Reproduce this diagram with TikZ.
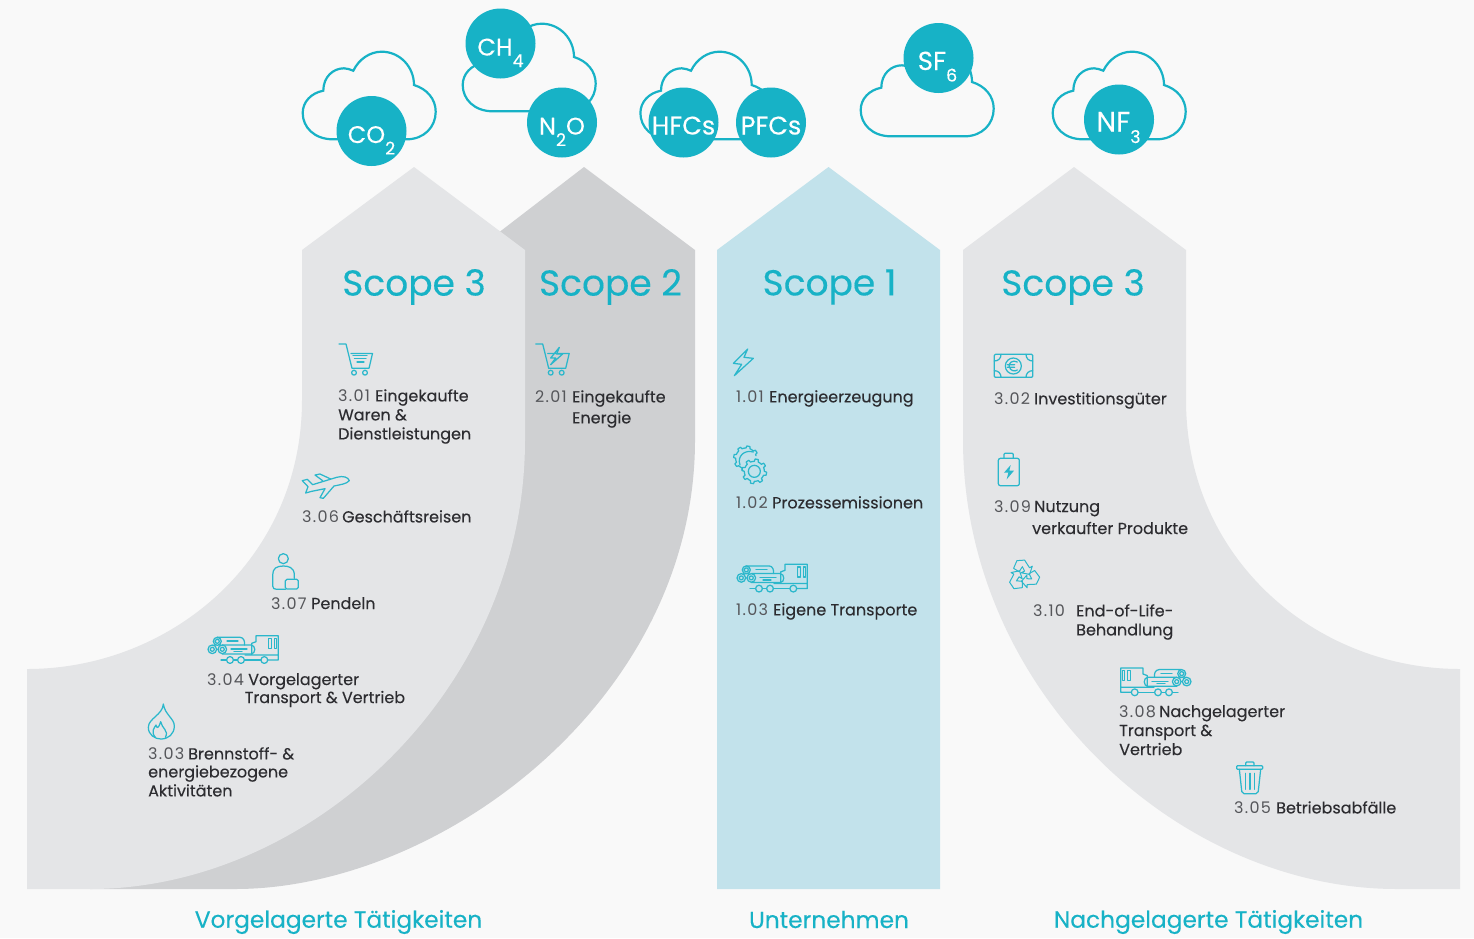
\documentclass[tikz,border=0pt]{standalone}
\usepackage{fontspec}
\setmainfont[FakeBold=0.2]{Poppins}
\newfontfamily\numf[LetterSpace=8]{Poppins}
\definecolor{bgc}{HTML}{F9F9F9}
\definecolor{lightg}{HTML}{E4E5E7}
\definecolor{darkg}{HTML}{CFD0D2}
\definecolor{bluep}{HTML}{C2E2EB}
\definecolor{teal}{HTML}{17B2C6}
\definecolor{iconc}{HTML}{2BB7CB}
\definecolor{numc}{HTML}{55565A}
\definecolor{labc}{HTML}{2C2C30}
\newcommand\cloudshape{(333,139.3) .. controls (314,139.3) and (302.7,127) .. (302.7,113) .. controls (302.7,102) and (311,93) .. (323.3,90.7) .. controls (323.3,77) and (333,68.3) .. (344,68.3) .. controls (347,68.3) and (350,69.5) .. (353.3,70.7) .. controls (359,59) and (370,51.7) .. (381.7,51.7) .. controls (400,51.7) and (414,67) .. (414,85) .. controls (427,89) and (435.7,99) .. (435.7,111.7) .. controls (435.7,127) and (424,139.3) .. (406.7,139.3) -- cycle}
\newcommand\subs[1]{\raisebox{-11.5pt}{\fontsize{17.5}{17.5}\selectfont #1}}
\newcommand\gt[1]{\smash{\raisebox{-12pt}{#1}}}
\newcommand\nb[2]{\makebox[#1pt][l]{\color{numc}\numf #2}}
\newcommand\fl{\rule{0pt}{11.2pt}}
\tikzset{
  x=1pt,y=-1pt,
  cloudline/.style={draw=teal,line width=2.2pt},
  gas/.style={circle,fill=teal,text=white,minimum size=70pt,inner sep=0pt,font=\fontsize{24}{24}\selectfont},
  gasbig/.style={gas,font=\fontsize{25.5}{25.5}\selectfont},
  scopetitle/.style={text=teal,inner sep=0pt,font=\fontsize{36}{36}\selectfont},
  foot/.style={text=teal,inner sep=0pt,font=\fontsize{23.3}{23.3}\selectfont},
  item/.style={text=labc,inner sep=0pt,anchor=north west,align=left,font=\fontsize{16}{19}\selectfont},
  icon/.style={draw=iconc,line width=1.25pt,line join=round,line cap=round},
  truck/.pic={
    \draw[icon] (10.3,6.3) circle (4) (10.3,6.3) circle (2) (5.3,14.3) circle (4.3) (5.3,14.3) circle (2) (15.3,14.3) circle (4.3) (15.3,14.3) circle (2);
    \draw[icon] (10.3,2.3) -- (33,2.3) .. controls (37,2.3) and (38,7) .. (37.5,10);
    \draw[icon] (15.3,10) -- (44,10) .. controls (49,10) and (49,19) .. (44,19) -- (15.3,19);
    \draw[icon] (20,6) -- (31,6) (24,14) -- (40,14) (27,16.5) -- (35,16.5);
    \draw[icon] (44.7,20) -- (44.7,8.3) -- (49,6.7) -- (49,.7) -- (71.3,.7) -- (71.3,25) -- (61,25) (38,20) -- (71.3,20);
    \draw[icon] (61.3,3.3) rectangle (64.7,13.3) (67.3,3.3) rectangle (69.7,13.3);
    \draw[icon] (23,25) circle (3.4) (34,25) circle (3.4) (57.3,25) circle (3.4);
    \draw[icon] (14,25) -- (19.6,25) (26.4,25) -- (30.6,25) (37.4,25) -- (53.9,25);
  },
  cartframe/.pic={
    \draw[icon] (339,344) -- (346,344) -- (352,368.3) -- (369,368.3) -- (372.5,353.5) -- (351,353.5);
    \draw[icon] (354,372.7) circle (2.4) (365,372.7) circle (2.4);
  }
}
\begin{document}
\begin{tikzpicture}
\useasboundingbox (0,0) rectangle (1474,938);
\fill[bgc] (0,0) rectangle (1474,938);
% bands
\fill[darkg] (584,167) -- (695,250) -- (695,440) .. controls (695,700) and (440,889) .. (235,889) -- (90,889) -- (450,500) -- (450,270) -- cycle;
\fill[lightg] (414,167) -- (525,250) -- (525,440) .. controls (525,690) and (310,889) .. (90,889) -- (27,889) -- (27,669) .. controls (170,669) and (302,560) .. (302,400) -- (302,250) -- cycle;
\fill[bluep] (828.5,167) -- (940,250) -- (940,889) -- (717,889) -- (717,250) -- cycle;
\fill[lightg] (1074,167) -- (1186,250) -- (1186,400) .. controls (1186,560) and (1317,669) .. (1460,669) -- (1460,889) -- (1397,889) .. controls (1177,889) and (963,690) .. (963,440) -- (963,250) -- cycle;
% clouds
\draw[cloudline] \cloudshape;
\draw[cloudline,shift={(160,-28)}] \cloudshape;
\draw[cloudline,shift={(337.7,0)}] \cloudshape;
\draw[cloudline,shift={(558,-3)}] \cloudshape;
\draw[cloudline,shift={(750,0)}] \cloudshape;
\node[gas] (co2) at (371.5,131) {\gt{CO\subs{2}}};
\node[gas] (ch4) at (500.5,43.5) {\gt{CH\subs{4}}};
\node[gas] (n2o) at (562,122.5) {\gt{N\subs{2}O}};
\node[gasbig] (hfc) at (683.5,122.5) {\gt{HFCs}};
\node[gasbig] (pfc) at (771,122.5) {\gt{PFCs}};
\node[gas,font=\fontsize{26}{26}\selectfont] (sf6) at (938.5,58) {\gt{\hspace*{-2pt}SF\subs{6}}};
\node[gas,font=\fontsize{28}{28}\selectfont] (nf3) at (1119,119.5) {\gt{\hspace*{-1pt}NF\subs{3}}};
% titles
\node[scopetitle] (s3a) at (414,287) {Scope 3};
\node[scopetitle] (s2) at (610.5,287) {Scope 2};
\node[scopetitle] (s1) at (829.5,287) {Scope 1};
\node[scopetitle] (s3b) at (1073,287) {Scope 3};
\node[foot] (fa) at (338.5,922) {Vorgelagerte Tätigkeiten};
\node[foot] (fb) at (829,919.5) {Unternehmen};
\node[foot] (fc) at (1208.5,922) {Nachgelagerte Tätigkeiten};
% items
\node[item] (i301) at (338,389) {\fl\nb{37}{3.01}Eingekaufte\\Waren \&\\Dienstleistungen};
\node[item] (i306) at (302,510) {\fl\nb{40}{3.06}Geschäftsreisen};
\node[item] (i307) at (271,597) {\fl\nb{40}{3.07}Pendeln};
\node[item] (i304) at (207,673) {\fl\nb{41}{3.04}Vorgelagerter\\[-1pt]\hspace*{37.5pt}Transport \& Vertrieb};
\node[item] (i303) at (148,747) {\fl\nb{40}{3.03}Brennstoff- \&\\[-1pt]energiebezogene\\Aktivitäten};
\node[item] (i201) at (535,390) {\fl\nb{37}{2.01}Eingekaufte\\[2pt]\hspace*{37pt}Energie};
\node[item] (i101) at (736,390) {\fl\nb{33}{1.01}Energieerzeugung};
\node[item] (i102) at (736,496) {\fl\nb{36}{1.02}Prozessemissionen};
\node[item] (i103) at (736,603) {\fl\nb{37}{1.03}Eigene Transporte};
\node[item] (i302) at (994,392) {\fl\nb{40}{3.02}Investitionsgüter};
\node[item] (i309) at (994,500) {\fl\nb{40}{3.09}Nutzung\\[3pt]\hspace*{38pt}verkaufter Produkte};
\node[item] (i310) at (1033,604) {\fl\nb{43}{3.10}End-of-Life-\\\hspace*{43pt}Behandlung};
\node[item] (i308) at (1119,705) {\fl\nb{40}{3.08}Nachgelagerter\\Transport \&\\Vertrieb};
\node[item] (i305) at (1234,801) {\fl\nb{42}{3.05}Betriebsabfälle};
% icons
\pic at (0,0) {cartframe};
\draw[icon] (353,355.7) -- (367,355.7) (354.5,358.5) -- (366,358.5) (357,362) -- (364,362);
\pic at (196.7,0) {cartframe};
\begin{scope}[shift={(520,330)},scale=1/3]
\draw[icon] (118,52) -- (92,84) -- (107,84) -- (92,104) -- (128,72) -- (110,72) -- cycle;
\draw[icon] (683,57) -- (640,100) -- (665,103) -- (643,137) -- (700,85) -- (672,82) -- cycle;
\draw[icon] plot[domain=105:345,samples=65] ({678+(31+6*(sin(8*\x)>0?1:0))*cos(\x)},{385+(31+6*(sin(8*\x)>0?1:0))*sin(\x)});
\draw[icon] (660,405) .. controls (650,378) and (675,358) .. (700,366);
\draw[icon] plot[domain=0:360,samples=97] ({703+(30+7*(sin(8*\x)>0?1:0))*cos(\x)},{424+(30+7*(sin(8*\x)>0?1:0))*sin(\x)});
\draw[icon] (703,424) circle (18);
\end{scope}
\pic at (207,635) {truck};
\pic at (736,563.6) {truck};
\pic[xscale=-1] at (1192,667.3) {truck};
\begin{scope}[shift={(130,330)},scale=1/3]
\draw[icon] (517,452) -- (532,448) -- (548,464) -- (620,442) .. controls (640,436) and (655,442) .. (658,452) .. controls (650,462) and (630,464) .. (612,468) -- (580,505) -- (570,503) -- (585,476) -- (545,484) -- (527,489) -- (534,470) -- cycle;
\draw[icon] (602,447) -- (570,432) -- (555,435) -- (578,452);
\draw[icon] (460,686) circle (15);
\draw[icon] (493,745) -- (493,735) .. controls (493,712) and (475,708) .. (460,708) .. controls (440,708) and (428,715) .. (428,735) -- (428,768) .. controls (428,775) and (433,778) .. (440,778) -- (466,778);
\draw[icon,rounded corners=1.5pt] (466,748) rectangle (505,777);
\end{scope}
\begin{scope}[shift={(130,620)},scale=1/3]
\draw[icon] (100,252) .. controls (98,285) and (55,295) .. (55,322) .. controls (55,345) and (75,357) .. (93,357) .. controls (115,357) and (133,342) .. (133,318) .. controls (133,295) and (105,285) .. (100,252) -- cycle;
\draw[icon] (76,352) .. controls (62,335) and (72,325) .. (78,315) .. controls (80,325) and (85,328) .. (92,305) .. controls (95,325) and (118,332) .. (106,352);
\end{scope}
\begin{scope}[shift={(980,340)},scale=1/3]
\draw[icon,rounded corners=1pt] (43,43) rectangle (158,112);
\draw[icon] (43,63) .. controls (55,63) and (63,55) .. (63,43) (138,43) .. controls (138,55) and (146,63) .. (158,63) (43,92) .. controls (55,92) and (63,100) .. (63,112) (138,112) .. controls (138,100) and (146,92) .. (158,92);
\draw[icon] (100,78) circle (24);
\draw[icon] (112,66) .. controls (98,58) and (84,70) .. (88,80) .. controls (90,92) and (104,96) .. (112,90) (82,74) -- (104,74) (82,82) -- (104,82);
\draw[icon,rounded corners=2pt] (55,355) rectangle (118,437);
\draw[icon,rounded corners=1pt] (72,355) -- (72,340) -- (100,340) -- (100,355);
\fill[iconc] (92,375) -- (72,398) -- (85,398) -- (80,418) -- (102,392) -- (88,392) -- cycle;
\end{scope}
\foreach \a in {0,120,240}{
  \begin{scope}[shift={(1023.5,575.5)},rotate=\a,scale=1.1]
    \draw[icon,line width=1pt] (-6,-13.5) -- (1,-14) -- (5.5,-7) -- (8,-8.5) -- (5.5,-1) -- (-2,-2.5) -- (1,-4) -- (-1,-8) -- (-4,-3.5) -- (-9,-6.5) -- cycle;
  \end{scope}
}
\begin{scope}[shift={(1100,650)},scale=1/3]
\draw[icon,rounded corners=1pt] (410,347) rectangle (488,358);
\draw[icon,rounded corners=1pt] (437,347) -- (437,336) -- (462,336) -- (462,347);
\draw[icon,rounded corners=2pt] (418,358) -- (426,431) -- (474,431) -- (482,358);
\draw[icon] (437,370) -- (437,418) (450,370) -- (450,418) (463,370) -- (463,418);
\end{scope}
\end{tikzpicture}
\end{document}
